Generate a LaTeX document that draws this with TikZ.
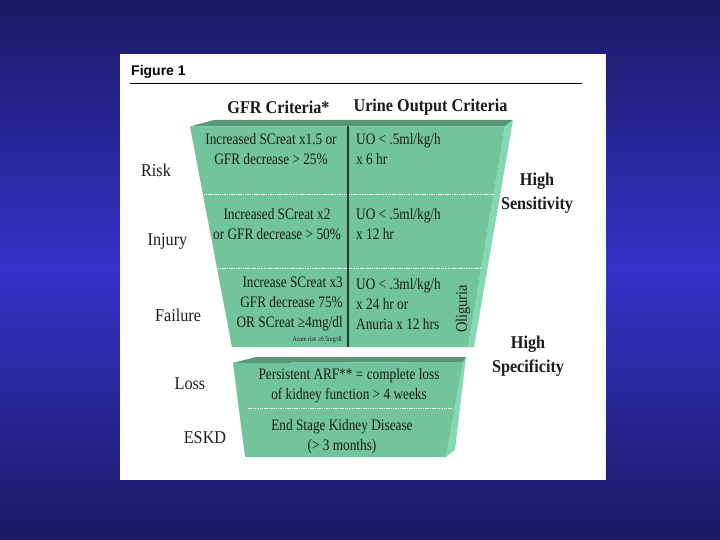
\documentclass[tikz,border=0pt]{standalone}
\usepackage{fontspec}
\setmainfont{Liberation Serif}
\newfontfamily\bodyf{Liberation Serif}[FakeStretch=0.83]
\newfontfamily\labf{Liberation Serif}[FakeStretch=0.9]
\newfontfamily\figf{Liberation Sans}
\definecolor{bgdark}{RGB}{26,26,100}
\definecolor{bgmid}{RGB}{52,50,200}
\definecolor{gfront}{RGB}{114,196,155}
\definecolor{gtop}{RGB}{88,150,120}
\definecolor{gside}{RGB}{132,218,174}
\definecolor{ink}{RGB}{28,28,28}
\definecolor{divline}{RGB}{40,58,48}
\tikzset{
  body/.style={font=\bodyf\fontsize{16}{20}\selectfont, text=ink, inner sep=0pt},
  tiny/.style={font=\bodyf\fontsize{7}{8}\selectfont, text=ink, inner sep=0pt},
  lab/.style={font=\labf\fontsize{18}{22}\selectfont, text=ink, inner sep=0pt},
  head/.style={font=\labf\bfseries\fontsize{18}{22}\selectfont, text=ink, inner sep=0pt},
  sens/.style={font=\labf\bfseries\fontsize{18}{24}\selectfont, text=ink, inner sep=0pt, align=center},
  sep/.style={white, line width=1pt, dash pattern=on 1.5pt off 0.8pt},
}
\begin{document}
\begin{tikzpicture}[x=1pt,y=-1pt]
\useasboundingbox (0,0) rectangle (720,540);
% background
\shade[top color=bgdark, bottom color=bgdark, middle color=bgmid] (0,0) rectangle (720,540);
% white panel
\fill[white] (120,54) rectangle (606,480);
% title
\node[font=\figf\bfseries\fontsize{14}{16}\selectfont, anchor=base west, inner sep=0pt] (fig) at (131,75.5) {Figure 1};
\coordinate (rl) at (130,83.5);
\coordinate (rr) at (582,83.5);
\draw[line width=1.1pt] (rl) -- (rr);
% headers
\node[head] (hgfr) at (278.5,107) {GFR Criteria*};
\node[head] (huo) at (430.5,107) {Urine Output Criteria};
% upper funnel
\fill[gtop] (190,126.5) -- (214,120) -- (513,120) -- (505,126.5) -- cycle;
\fill[gside] (505,126.5) -- (513,120) -- (474,347) -- (468,347) -- cycle;
\fill[gfront] (190,126.5) -- (505,126.5) -- (468,347) -- (232,347) -- cycle;
\draw[sep] (203.5,194.6) -- (493.5,194.6);
\draw[sep] (217.5,268) -- (481,268);
\coordinate (dtop) at (348,126.5);
\coordinate (dbot) at (348,347);
\draw[divline, line width=2pt] (dtop) -- (dbot);
% lower funnel
\fill[gtop] (233,363) -- (256,357) -- (466,357) -- (463,362) -- cycle;
\fill[gside] (463,362) -- (466,357) -- (455,450) -- (446,457) -- cycle;
\fill[gfront] (233,363) -- (463,362) -- (446,457) -- (245,457) -- cycle;
\draw[sep] (248,408.5) -- (452,408.5);
% cell texts
\node[body, align=center] (rgfr) at (271,149.5) {Increased SCreat x1.5 or\\GFR decrease > 25\%};
\node[body, align=left, anchor=west] (ruo) at (356,149.5) {UO < .5ml/kg/h\\x 6 hr};
\node[body, align=center] (igfr) at (277,224) {Increased SCreat x2\\or GFR decrease > 50\%};
\node[body, align=left, anchor=west] (iuo) at (356,224) {UO < .5ml/kg/h\\x 12 hr};
\node[body, align=right, anchor=east] (fgfr) at (343,304) {Increase SCreat x3\\GFR decrease 75\%\\OR SCreat ≥4mg/dl};
\node[tiny, anchor=east] (facute) at (342,340) {Acute rise ≥0.5mg/dl};
\node[body, align=left, anchor=west] (fuo) at (356,304) {UO < .3ml/kg/h\\x 24 hr or\\Anuria x 12 hrs};
\node[font=\labf\fontsize{16}{18}\selectfont, text=ink, inner sep=0pt, rotate=90] (olig) at (463,309) {Oliguria};
\node[body, align=center] (loss) at (349,386) {Persistent ARF** = complete loss\\of kidney function > 4 weeks};
\node[body, align=center] (eskd) at (342,436.5) {End Stage Kidney Disease\\(> 3 months)};
% side labels
\node[lab] (lrisk) at (156,170.5) {Risk};
\node[lab] (linj) at (167.5,241) {Injury};
\node[lab] (lfail) at (178,315) {Failure};
\node[lab] (lloss) at (190,384) {Loss};
\node[lab] (leskd) at (205,438) {ESKD};
\node[sens] (hsens) at (537,193.5) {High\\Sensitivity};
\node[sens] (hspec) at (528,356) {High\\Specificity};
\end{tikzpicture}
\end{document}
